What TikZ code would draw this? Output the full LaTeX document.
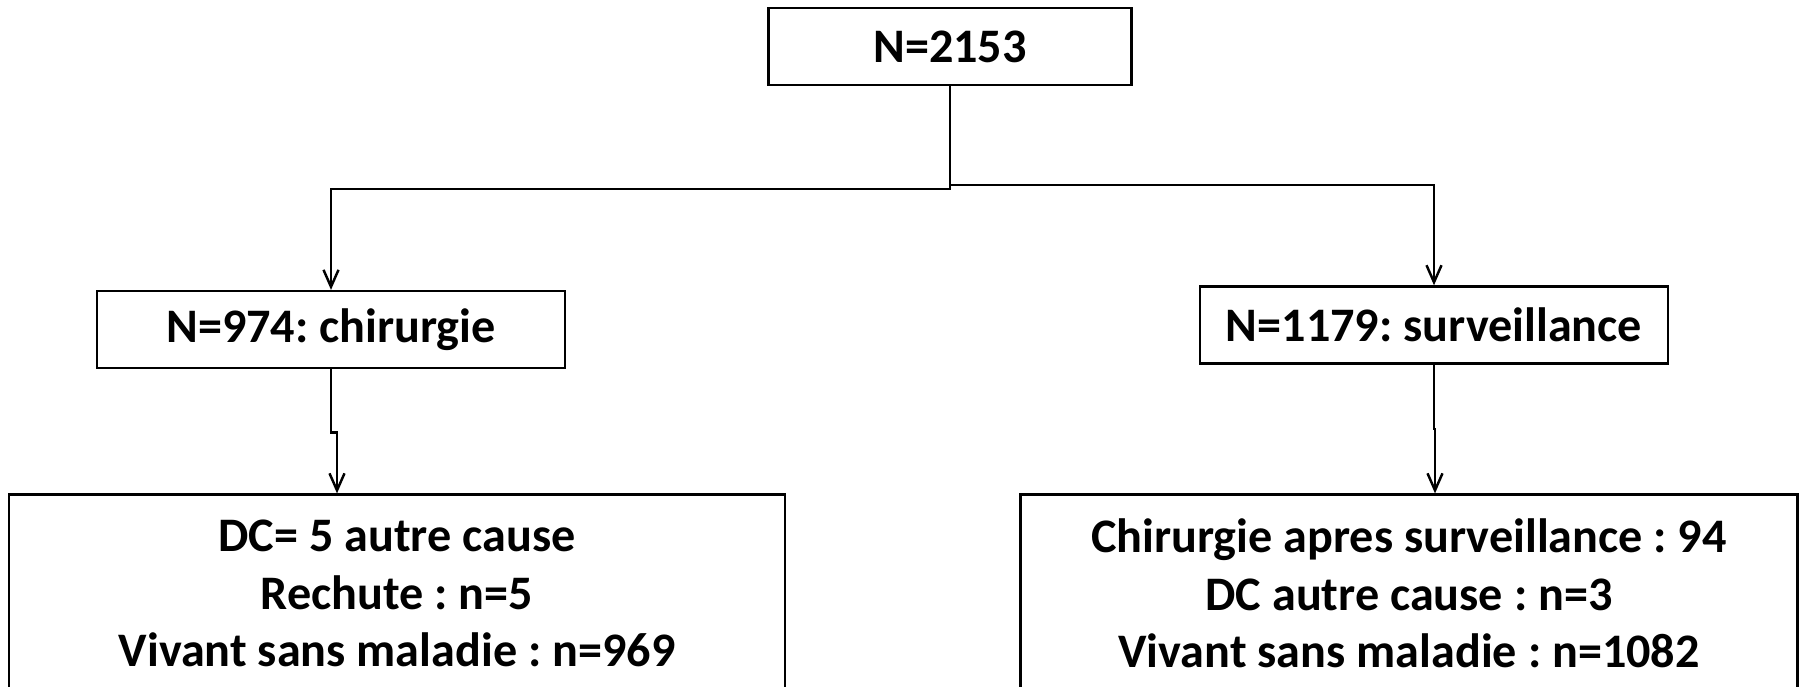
\documentclass[tikz,border=0pt]{standalone}
\usepackage{fontspec}
\setmainfont{Carlito}
\usepackage{tikz}
\usetikzlibrary{arrows.meta,calc}
\frenchspacing

\begin{document}
\begin{tikzpicture}[
		box/.style={draw,line width=0.7pt,inner sep=0pt,align=center,font=\bfseries\fontsize{13.7}{16.4}\selectfont},
		arr/.style={line width=0.7pt,-{Straight Barb[length=1.7mm,width=1.5mm]}}]
		\clip (0,0) rectangle (18.04,-6.86);
		\node[box,minimum width=3.63cm,minimum height=0.77cm] (total) at (9.50,-0.465) {N=2153};
		\node[box,minimum width=4.68cm,minimum height=0.77cm] (chir) at (3.31,-3.296) {N=974: chirurgie};
		\node[box,minimum width=4.68cm,minimum height=0.77cm] (surv) at (14.34,-3.25) {N=1179: surveillance};
		\node[box,minimum width=7.76cm,minimum height=1.98cm] (chirres) at (3.97,-5.936) {DC= 5 autre cause\\Rechute : n=5\\Vivant sans maladie : n=969};
		\node[box,minimum width=7.77cm,minimum height=1.98cm] (survres) at (14.09,-5.936) {Chirurgie apres surveillance : 94\\DC autre cause : n=3\\Vivant sans maladie : n=1082};
		\draw[arr] (total.south) -- ++(0,-1.025) -| (chir.north);
		\draw[arr] (total.south) -- ++(0,-0.99) -| (surv.north);
		\draw[arr] (chir.south) -- ++(0,-0.63) -- ++(0.06,0) coordinate (jogl) -- (jogl |- chirres.north);
		\draw[arr] (surv.south) -- ++(0,-0.645) -- ++(0.01,0) coordinate (jogr) -- (jogr |- survres.north);
	\end{tikzpicture}
\end{document}
